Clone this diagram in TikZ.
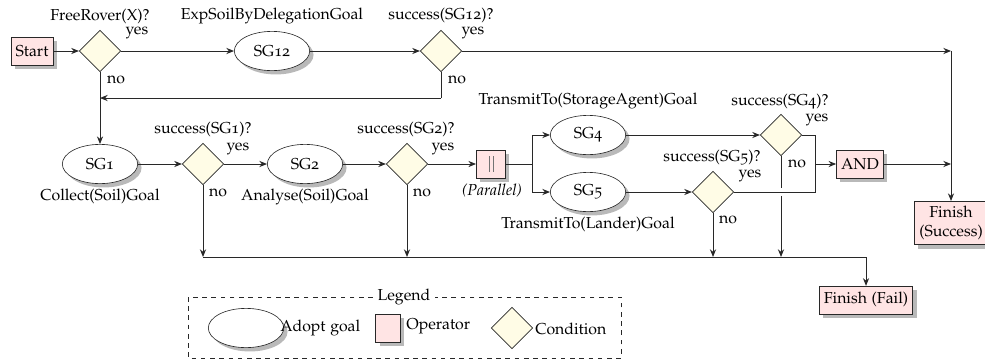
\documentclass[tikz,border=0pt]{standalone}
\usepackage[T1]{fontenc}
\usepackage[osf]{mathpazo}
\usetikzlibrary{shapes.geometric,arrows.meta,shadows,calc}
\definecolor{opfill}{RGB}{255,228,228}
\definecolor{condfill}{RGB}{255,252,230}
\definecolor{shadowgray}{RGB}{185,185,185}
\definecolor{linecol}{RGB}{40,40,40}
\begin{document}
\begin{tikzpicture}[x=0.65pt,y=-0.65pt,
  font=\fontsize{10.3}{12.4}\selectfont,
  shad/.style={drop shadow={shadow xshift=2.5pt,shadow yshift=-2.5pt,fill=shadowgray,opacity=1}},
  goal/.style={ellipse,draw=linecol,fill=white,minimum width=49pt,minimum height=25.5pt,inner sep=0pt,shad},
  cond/.style={diamond,draw=linecol,fill=condfill,minimum width=27pt,minimum height=27pt,inner sep=0pt},
  op/.style={rectangle,draw=linecol,fill=opfill,minimum height=18pt,inner xsep=3pt,inner ysep=2pt,shad},
  lbl/.style={inner sep=0pt},
  conn/.style={draw=linecol,line width=0.6pt},
  arr/.style={conn,-{Stealth[length=5pt,width=4pt]}},
]
\useasboundingbox (0,0) rectangle (985,362);
% row 1
\node[op] (start) at (32,51) {Start};
\node[cond] (d1) at (100,51) {};
\node[lbl] (t1) at (100,17) {FreeRover(X)?};
\node[lbl] (y1) at (137,33) {yes};
\node[lbl] (n1) at (116,80) {no};
\node[goal] (sg12) at (272,51) {SG12};
\node[lbl] (t12) at (272,16) {ExpSoilByDelegationGoal};
\node[cond] (d2) at (441,51) {};
\node[lbl] (t2) at (441,16) {success(SG12)?};
\node[lbl] (y2) at (473,33) {yes};
\node[lbl] (n2) at (457,80) {no};
\coordinate (tr) at (951,51);
\coordinate (ret) at (441,98);
\coordinate (retend) at (100,98);
% row 2
\node[goal] (sg1) at (100,164) {SG1};
\node[lbl] (tsg1) at (100,197) {Collect(Soil)Goal};
\node[cond] (c1) at (203,164) {};
\node[lbl] (tc1) at (203,130) {success(SG1)?};
\node[lbl] (yc1) at (238,149) {yes};
\node[lbl] (nc1) at (218,193) {no};
\node[goal] (sg2) at (305,164) {SG2};
\node[lbl] (tsg2) at (305,197) {Analyse(Soil)Goal};
\node[cond] (c2) at (407,164) {};
\node[lbl] (tc2) at (406,130) {success(SG2)?};
\node[lbl] (yc2) at (443,149) {yes};
\node[lbl] (nc2) at (422,193) {no};
\node[op,minimum width=19pt] (par) at (491,164) {\textcolor{black!55}{\rule[-2pt]{0.5pt}{10pt}\hspace{2pt}\rule[-2pt]{0.5pt}{10pt}}};
\node[lbl] (tpar) at (492,191) {\itshape (Parallel)};
\coordinate (fk) at (532,164);
\node[goal] (sg4) at (588,135) {SG4};
\node[lbl] (tsg4) at (588,101) {TransmitTo(StorageAgent)Goal};
\node[cond] (c4) at (781,135) {};
\node[lbl] (tc4) at (780,102) {success(SG4)?};
\node[lbl] (yc4) at (817,120) {yes};
\node[lbl] (nc4) at (797,164) {no};
\node[goal] (sg5) at (588,192) {SG5};
\node[lbl] (tsg5) at (588,225) {TransmitTo(Lander)Goal};
\node[cond] (c5) at (713,192) {};
\node[lbl] (tc5) at (712,158) {success(SG5)?};
\node[lbl] (yc5) at (750,176) {yes};
\node[lbl] (nc5) at (728,220) {no};
\coordinate (j4) at (815,135);
\coordinate (jn) at (815,164);
\coordinate (j5) at (815,192);
\node[op] (and) at (860,164) {AND};
\coordinate (rs) at (951,164);
\node[op,align=center,inner ysep=3pt] (fs) at (951,223) {Finish\\(Success)};
\coordinate (bl) at (203,257);
\coordinate (br) at (866,257);
\node[op] (ff) at (866,300) {Finish (Fail)};
% connectors
\draw[arr] (start) -- (d1);
\draw[arr] (d1) -- (sg12);
\draw[arr] (sg12) -- (d2);
\draw[arr] (d2) -- (tr);
\draw[arr] (tr) -- (fs);
\draw[conn] (d2.south) -- (ret);
\draw[arr] (ret) -- (retend);
\draw[arr] (d1.south) -- (sg1.north);
\draw[arr] (sg1) -- (c1);
\draw[arr] (c1) -- (sg2);
\draw[arr] (sg2) -- (c2);
\draw[arr] (c2) -- (par);
\draw[conn] (par) -- (fk);
\draw[arr] (fk) |- (sg4);
\draw[arr] (fk) |- (sg5);
\draw[arr] (sg4) -- (c4);
\draw[arr] (sg5) -- (c5);
\draw[conn] (c4.south) -- ([yshift=2.5pt]c4.south |- j5);
\draw[arr] ([yshift=-2.5pt]c4.south |- j5) -- (c4.south |- bl);
\draw[conn] (c4.east) -- (j4) -- (j5) -- (c5.east);
\draw[arr] (jn) -- (and);
\draw[arr] (and) -- (rs);
\draw[arr] (c1.south) -- (bl);
\draw[arr] (c2.south) -- (c2.south |- bl);
\draw[arr] (c5.south) -- (c5.south |- bl);
\draw[conn] (bl) -- (br);
\draw[arr] (br) -- (ff);
% legend
\draw[conn,dashed,line width=0.5pt] (188,297) rectangle (621,358);
\node[fill=white,inner xsep=3pt,inner ysep=1pt] (leg) at (404,297) {Legend};
\node[goal] (lg) at (246,328) {};
\node[lbl,anchor=west] (lgt) at (280,328) {Adopt goal};
\node[op,minimum width=16pt,minimum height=18pt,inner sep=0pt] (lo) at (388,328) {};
\node[lbl,anchor=west] (lot) at (406,326) {Operator};
\node[cond] (lc) at (512,328) {};
\node[lbl,anchor=west] (lct) at (535,329) {Condition};
\end{tikzpicture}
\end{document}
